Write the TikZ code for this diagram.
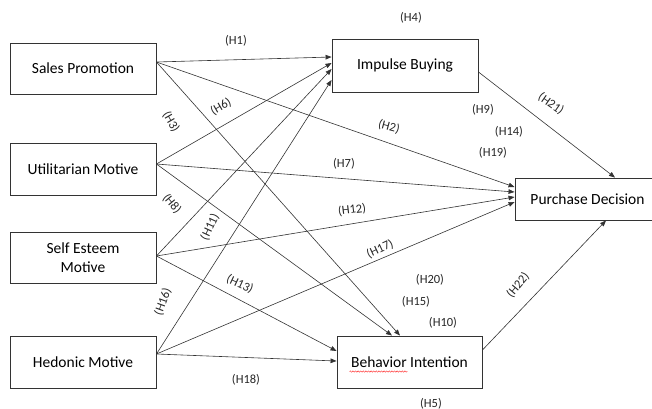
\documentclass[tikz,border=0pt]{standalone}
\usepackage{fontspec}
\setmainfont{Carlito}
\usetikzlibrary{arrows.meta,decorations.pathmorphing}
\begin{document}
\begin{tikzpicture}[x=1pt,y=-1pt,
  box/.style={draw=black!80, line width=0.9pt, inner sep=0pt, font=\fontsize{15.5}{19.5}\selectfont, align=center},
  arr/.style={draw=black!80, line width=0.6pt, -{Triangle[length=6pt,width=4.6pt]}},
  lab/.style={font=\fontsize{12.5}{14}\selectfont, inner sep=0pt, text=black!85}]
\useasboundingbox (0,0) rectangle (652,408);
\clip (0,0) rectangle (652,408);
% boxes
\node[box, minimum width=146pt, minimum height=51pt] (sp) at (83,68.5) {Sales Promotion};
\node[box, minimum width=146pt, minimum height=52pt] (ut) at (83,169) {Utilitarian Motive};
\node[box, minimum width=146pt, minimum height=51pt] (se) at (83,257.5) {Self Esteem\\Motive};
\node[box, minimum width=146pt, minimum height=52pt] (hd) at (83,362) {Hedonic Motive};
\node[box, minimum width=146pt, minimum height=53pt] (ib) at (405,65.5) {Impulse Buying};
\node[box, minimum width=145pt, minimum height=42pt] (pd) at (587.5,199) {Purchase Decision};
\node[box, minimum width=145pt, minimum height=52pt] (bi) at (409.5,362) {Behavior Intention};
\draw[red!85, line width=0.4pt, decorate, decoration={snake, amplitude=0.7pt, segment length=2.6pt}]
  ([xshift=-60pt,yshift=-9.5pt]bi.center) -- ([xshift=-2pt,yshift=-9.5pt]bi.center);
% to impulse buying
\draw[arr] ([yshift=6.5pt]sp.east) -- ([yshift=8.5pt]ib.west);
\draw[arr] ([yshift=5pt]ut.east) -- ([yshift=2.5pt]ib.west);
\draw[arr] ([yshift=1.5pt]se.east) -- ([yshift=-3.5pt]ib.west);
\draw[arr] ([yshift=8pt]hd.east) -- ([yshift=-14.5pt]ib.west);
% to purchase decision
\draw[arr] ([yshift=6.5pt]sp.east) -- ([yshift=12pt]pd.west);
\draw[arr] ([yshift=5pt]ut.east) -- ([yshift=7pt]pd.west);
\draw[arr] ([yshift=1.5pt]se.east) -- ([yshift=2pt]pd.west);
\draw[arr] ([yshift=8pt]hd.east) -- ([yshift=-3pt]pd.west);
% to behavior intention
\draw[arr] ([yshift=6.5pt]sp.east) -- ([xshift=-9.5pt]bi.north);
\draw[arr] ([yshift=5pt]ut.east) -- ([xshift=-17.5pt]bi.north);
\draw[arr] ([yshift=1.5pt]se.east) -- ([yshift=11pt]bi.west);
\draw[arr] ([yshift=8pt]hd.east) -- ([yshift=1pt]bi.west);
% mediators
\draw[arr] ([yshift=-6.5pt]ib.east) -- ([xshift=27.5pt]pd.north);
\draw[arr] ([yshift=12pt]bi.east) -- ([xshift=18.5pt]pd.south);
% labels
\node[lab] (h1) at (236,41) {(H1)};
\node[lab] (h4) at (411,18) {(H4)};
\node[lab, rotate=30] (h6) at (221,107) {(H6)};
\node[lab, rotate=-60] (h3) at (171,122) {(H3)};
\node[lab, rotate=-15] (h2) at (389,127) {(H2)};
\node[lab] (h7) at (344,164) {(H7)};
\node[lab] (h9) at (483,110) {(H9)};
\node[lab] (h14) at (509,132) {(H14)};
\node[lab] (h19) at (493,153) {(H19)};
\node[lab, rotate=-35] (h21) at (551,104) {(H21)};
\node[lab, rotate=-50] (h8) at (172,204) {(H8)};
\node[lab, rotate=65] (h11) at (210,227) {(H11)};
\node[lab, rotate=7] (h12) at (352,210) {(H12)};
\node[lab, rotate=25] (h17) at (380,249) {(H17)};
\node[lab, rotate=-25] (h13) at (240,284) {(H13)};
\node[lab, rotate=70] (h16) at (163,302) {(H16)};
\node[lab] (h18) at (246,380) {(H18)};
\node[lab] (h20) at (430,280) {(H20)};
\node[lab] (h15) at (416,302) {(H15)};
\node[lab] (h10) at (443,323) {(H10)};
\node[lab, rotate=50] (h22) at (518,285) {(H22)};
\node[lab] (h5) at (431,404) {(H5)};
\end{tikzpicture}
\end{document}
